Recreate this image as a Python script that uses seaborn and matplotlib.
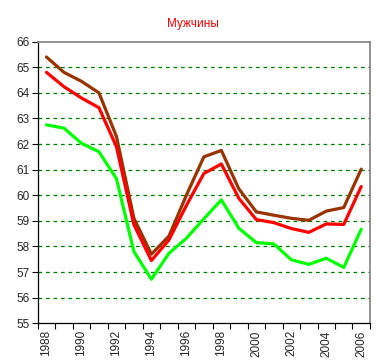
import numpy as np
import pandas as pd
import matplotlib
matplotlib.use("Agg")
import matplotlib.pyplot as plt
import seaborn as sns

years = list(range(1988, 2007))
series_top = [65.4, 64.8, 64.45, 64.0, 62.3, 59.1, 57.7, 58.4, 60.0, 61.5, 61.75,
              60.25, 59.35, 59.22, 59.1, 59.02, 59.38, 59.52, 61.02]
series_mid = [64.8, 64.24, 63.8, 63.42, 61.9, 58.85, 57.45, 58.25, 59.6, 60.85, 61.22,
              59.88, 59.05, 58.93, 58.7, 58.55, 58.88, 58.86, 60.34]
series_low = [62.75, 62.62, 62.03, 61.7, 60.65, 57.8, 56.72, 57.73, 58.32, 59.08, 59.82,
              58.71, 58.15, 58.1, 57.48, 57.3, 57.54, 57.18, 58.67]
series_names = ["s1", "s2", "s3"]
colors = ["#993300", "#FF0000", "#00FF00"]
title = "Мужчины"

df = pd.concat([
    pd.DataFrame({"year": years, "value": v, "series": n})
    for v, n in zip([series_top, series_mid, series_low], series_names)
])

sns.set_theme(style="white")
plt.rcParams["font.family"] = ["Liberation Sans", "DejaVu Sans"]

fig = plt.figure(figsize=(3.85, 3.62), dpi=100)
ax = fig.add_axes([0.098, 0.107, 0.863, 0.778])

sns.lineplot(data=df, x="year", y="value", hue="series", palette=colors,
             linewidth=2.3, legend=False, ax=ax, zorder=3)

ax.set_xlim(1987.5, 2006.5)
ax.set_ylim(55, 66)
ax.set_yticks(range(55, 67))
ax.set_yticklabels([str(v) for v in range(55, 67)], fontsize=8.5)
for y in range(56, 66):
    ax.axhline(y, color="#008000", linestyle=(0, (3, 3)), linewidth=0.9, zorder=1)

ax.set_xticks(np.arange(1987.5, 2007, 1.0))
ax.set_xticklabels([])
ax.set_xticks(years[::2], minor=True)
ax.set_xticklabels([str(y) for y in years[::2]], minor=True, rotation=90, fontsize=8.5)
ax.tick_params(axis="x", which="major", length=4, width=0.8, direction="out", bottom=True, color="black")
ax.tick_params(axis="x", which="minor", length=0, pad=5)
ax.tick_params(axis="y", length=4, width=0.8, direction="out", left=True, color="black", pad=2)

ax.set_xlabel("")
ax.set_ylabel("")
for s in ["left", "bottom"]:
    ax.spines[s].set_color("black")
    ax.spines[s].set_linewidth(0.9)
for s in ["top", "right"]:
    ax.spines[s].set_color("#808080")
    ax.spines[s].set_linewidth(1.2)

fig.text(0.5, 0.935, title, color="#FF0000", fontsize=8.5, ha="center", va="center")

fig.savefig("out.png", dpi=100, facecolor="white")
